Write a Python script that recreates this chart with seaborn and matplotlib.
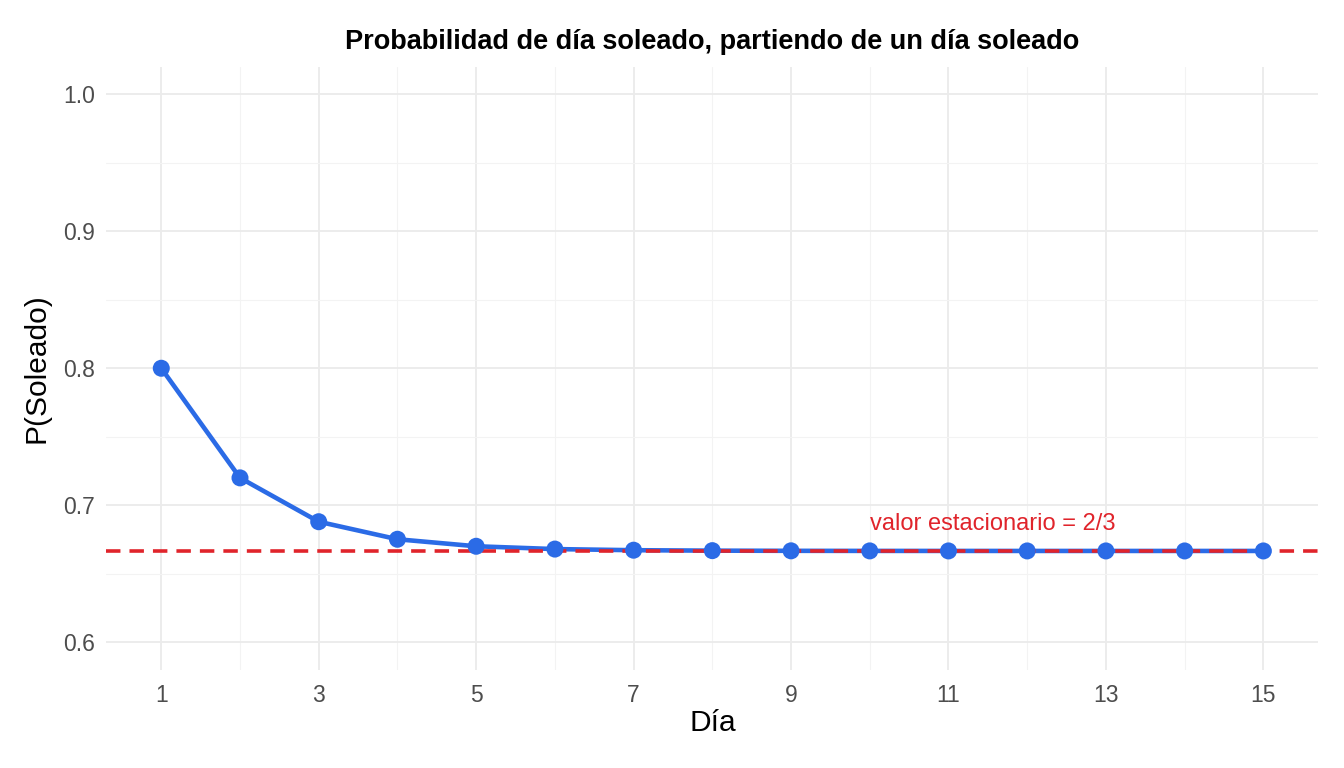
import numpy as np
import pandas as pd
import matplotlib
matplotlib.use('Agg')
import matplotlib.pyplot as plt
import seaborn as sns

# datos
dias = list(range(1, 16))
p_soleado = [0.8, 0.72, 0.688, 0.6752, 0.67008, 0.668032, 0.6672128,
             0.66688512, 0.666754, 0.6667016, 0.6666806, 0.6666723,
             0.6666689, 0.6666676, 0.666667]
estacionario = 2 / 3
etiqueta = 'valor estacionario = 2/3'

df = pd.DataFrame({'Día': dias, 'P': p_soleado})

sns.set_theme(style='whitegrid')
plt.rcParams['font.family'] = ['Liberation Sans', 'DejaVu Sans']

azul = '#2B6BE6'
rojo = '#E0242B'

fig, ax = plt.subplots(figsize=(13.44, 7.68), dpi=100)
fig.subplots_adjust(left=0.079, right=0.981, top=0.913, bottom=0.128)

sns.lineplot(data=df, x='Día', y='P', color=azul, linewidth=3.3, ax=ax, zorder=3)
ax.axhline(estacionario, color=rojo, linestyle=(0, (4, 2.5)), linewidth=2.6, zorder=4)
sns.scatterplot(data=df, x='Día', y='P', color=azul, s=150, edgecolor='none', ax=ax, zorder=5)
ax.text(10, 0.678, etiqueta, color=rojo, fontsize=17, ha='left', va='bottom')

ax.set_xlim(0.3, 15.7)
ax.set_ylim(0.58, 1.02)
ax.set_xticks([1, 3, 5, 7, 9, 11, 13, 15])
ax.set_xticks(range(2, 16, 2), minor=True)
ax.set_yticks([0.6, 0.7, 0.8, 0.9, 1.0])
ax.set_yticks([0.65, 0.75, 0.85, 0.95], minor=True)
ax.set_yticklabels(['0.6', '0.7', '0.8', '0.9', '1.0'])

ax.grid(which='major', color='#EBEBEB', linewidth=1.3)
ax.grid(which='minor', color='#F3F3F3', linewidth=0.8)
for s in ax.spines.values():
    s.set_visible(False)
ax.tick_params(axis='both', which='both', length=0, labelsize=16.5, labelcolor='#4D4D4D')
ax.tick_params(axis='x', pad=10)
ax.tick_params(axis='y', pad=8)

ax.set_title('Probabilidad de día soleado, partiendo de un día soleado',
             fontsize=19.5, fontweight='bold', color='black', pad=13)
ax.set_xlabel('Día', fontsize=21.5, color='black', labelpad=2)
ax.set_ylabel('P(Soleado)', fontsize=21.5, color='black', labelpad=9)

fig.savefig('out.png', dpi=100, facecolor='white')
